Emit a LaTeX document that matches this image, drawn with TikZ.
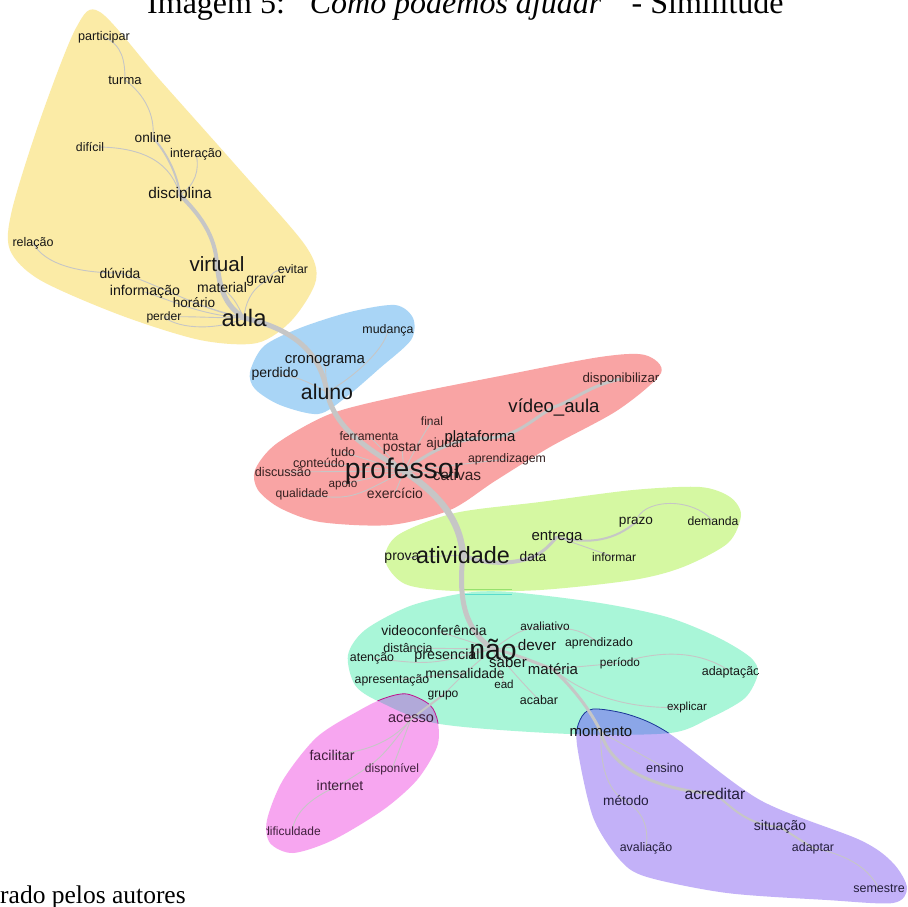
\documentclass[tikz,border=0pt]{standalone}
\usepackage{fontspec}
\setmainfont{Liberation Sans}
\newfontfamily\timesf{Liberation Serif}
\pgfdeclarelayer{blobs}
\pgfdeclarelayer{edges}
\pgfsetlayers{blobs,edges,main}
\newcommand\fsz[1]{\fontsize{#1}{#1}\selectfont}
\definecolor{cyel}{HTML}{FBEBA6}
\definecolor{cblue}{HTML}{A9D5F6}
\definecolor{cred}{HTML}{F9A4A4}
\definecolor{cgreen}{HTML}{D5F8A2}
\definecolor{cteal}{HTML}{A9F6D8}
\definecolor{cpink}{HTML}{F7A6F0}
\definecolor{cpurple}{HTML}{C3B1F8}
\definecolor{cpinkteal}{HTML}{B1A9D9}
\definecolor{cpurpteal}{HTML}{8BA6E8}
\definecolor{edgec}{HTML}{C6C6C6}
\definecolor{txt}{HTML}{161616}
\definecolor{txtred}{HTML}{352020}
\definecolor{txtpink}{HTML}{3F1E3B}
\definecolor{txtpurp}{HTML}{231E3B}
\def\yelpath{plot[smooth cycle] coordinates {(100,12) (160,80) (240,170) (305,245) (316,280) (292,320) (257,343) (200,340) (120,315) (40,280) (10,250) (12,210) (40,120) (76,28)}}
\def\bluepath{plot[smooth cycle] coordinates {(250,372) (264,346) (300,328) (350,312) (395,305) (413,318) (411,340) (380,368) (345,398) (318,414) (280,405) (255,389)}}
\def\redpath{plot[smooth cycle] coordinates {(255,470) (276,444) (330,414) (400,396) (500,376) (600,357) (645,355) (661,373) (618,410) (550,447) (495,481) (450,510) (390,525) (320,522) (280,508) (258,490)}}
\def\greenpath{plot[smooth cycle] coordinates {(385,560) (398,535) (455,513) (540,502) (633,490) (700,487) (730,497) (741,515) (728,543) (683,567) (633,580) (540,590) (455,591) (405,584)}}
\def\tealpath{plot[smooth cycle] coordinates {(348,655) (365,630) (410,606) (465,593) (510,592) (600,603) (667,617) (717,637) (750,657) (758,673) (745,698) (710,718) (670,733) (570,734) (440,724) (380,702) (355,685)}}
\def\pinkpath{plot[smooth cycle] coordinates {(407,694) (430,705) (438,723) (437,747) (417,780) (383,810) (333,840) (293,853) (270,843) (267,820) (283,780) (317,737) (360,710) (385,698)}}
\def\purppath{plot[smooth cycle] coordinates {(593,709) (630,715) (670,734) (760,800) (860,840) (893,863) (907,888) (893,903) (827,900) (727,893) (647,877) (620,860) (593,817) (577,745) (580,720)}}
\tikzset{
  w/.style={inner sep=0pt, text=txt},
  wr/.style={w, text=txtred},
  wp/.style={w, text=txtpink},
  wu/.style={w, text=txtpurp},
  e/.style={draw=edgec, line width=0.9pt, line cap=round},
  e2/.style={draw=edgec, line width=2pt, line cap=round},
  e3/.style={draw=edgec, line width=3pt, line cap=round},
  e4/.style={draw=edgec, line width=4pt, line cap=round},
  e5/.style={draw=edgec, line width=5pt, line cap=round},
  e6/.style={draw=edgec, line width=6.5pt, line cap=round},
}
\begin{document}
\begin{tikzpicture}[x=1pt,y=-1pt]
\useasboundingbox (0,0) rectangle (908,906);
\clip (0,0) rectangle (908,906);
% ---------- blobs ----------
\begin{pgfonlayer}{blobs}
\fill[white] (0,0) rectangle (908,906);
\fill[cyel] \yelpath;
\fill[cblue] \bluepath;
\fill[cred] \redpath;
\fill[cgreen] \greenpath;
\fill[cteal] \tealpath;
\fill[cpink] \pinkpath;
\fill[cpurple] \purppath;
\begin{scope}
\clip \tealpath;
\fill[cpinkteal] \pinkpath;
\draw[color={rgb,255:red,190;green,20;blue,140}, line width=0.8pt] \pinkpath;
\fill[cpurpteal] \purppath;
\draw[color={rgb,255:red,25;green,55;blue,150}, line width=0.8pt] \purppath;
\end{scope}
\draw[color={rgb,255:red,150;green,225;blue,110}, line width=0.8pt] (463,589) -- (512,589);
\draw[color={rgb,255:red,90;green,220;blue,205}, line width=0.8pt] (463,594) -- (512,594);
\end{pgfonlayer}
% ---------- title ----------
\node[inner sep=0pt, anchor=base west, text=black] (title) at (147,13)
  {\timesf\fsz{32}Imagem 5: “\textit{Como podemos ajudar}” \ - Similitude};
\node[inner sep=0pt, anchor=base west, text=black] (fonte) at (0,903)
  {\timesf\fsz{25.5}rado pelos autores};
% ---------- yellow ----------
\node[w,font=\fsz{12.6}] (participar) at (104,37) {participar};
\node[w,font=\fsz{13}] (turma) at (125,80) {turma};
\node[w,font=\fsz{13.7}] (online) at (153,138) {online};
\node[w,font=\fsz{12.3}] (dificil) at (90,147) {difícil};
\node[w,font=\fsz{12.6}] (interacao) at (196,154) {interação};
\node[w,font=\fsz{15.4}] (disciplina) at (180,195) {disciplina};
\node[w,font=\fsz{12.5}] (relacao) at (33,243) {relação};
\node[w,font=\fsz{20.6}] (virtual) at (217,264) {virtual};
\node[w,font=\fsz{13.9}] (duvida) at (120,273) {dúvida};
\node[w,font=\fsz{12.3}] (evitar) at (293,269) {evitar};
\node[w,font=\fsz{13.9}] (gravar) at (266,281) {gravar};
\node[w,font=\fsz{14}] (material) at (222,287) {material};
\node[w,font=\fsz{14.2}] (informacao) at (145,292) {informação};
\node[w,font=\fsz{13.6}] (horario) at (194,303) {horário};
\node[w,font=\fsz{12.1}] (perder) at (164,317) {perder};
\node[w,font=\fsz{23.8}] (aula) at (244,318) {aula};
% ---------- blue ----------
\begin{scope}
\clip \bluepath;
\node[w,font=\fsz{12.4}] (mudanca) at (388,330) {mudança};
\end{scope}
\node[w,font=\fsz{15}] (cronograma) at (325,361) {cronograma};
\node[w,font=\fsz{14}] (perdido) at (275,374) {perdido};
\node[w,font=\fsz{21.3}] (aluno) at (327,392) {aluno};
% ---------- red ----------
\begin{scope}
\clip \redpath;
\node[wr,font=\fsz{13.3}] (disponibilizar) at (621,379) {disponibilizar};
\end{scope}
\node[w,font=\fsz{18.6}] (videoaula) at (554,407) {vídeo\_aula};
\node[wr,font=\fsz{12}] (final) at (432,421) {final};
\node[wr,font=\fsz{12.2}] (ferramenta) at (369,436) {ferramenta};
\node[wr,font=\fsz{12.5}] (tudo) at (343,452) {tudo};
\node[wr,font=\fsz{13.8}] (postar) at (402,448) {postar};
\node[wr,font=\fsz{13.4}] (ajudar) at (445,444) {ajudar};
\node[w,font=\fsz{15}] (plataforma) at (480,438) {plataforma};
\node[wr,font=\fsz{12.6}] (conteudo) at (319,463) {conteúdo};
\node[wr,font=\fsz{12.3}] (aprendizagem) at (507,459) {aprendizagem};
\node[wr,font=\fsz{15.5}] (cativas) at (457,475) {cativas};
\node[w,font=\fsz{28.4}] (professor) at (404,471) {professor};
\node[wr,font=\fsz{12.6}] (discussao) at (283,472) {discussão};
\node[wr,font=\fsz{11.7}] (apoio) at (343,484) {apoio};
\node[wr,font=\fsz{12.2}] (qualidade) at (302,494) {qualidade};
\node[wr,font=\fsz{14}] (exercicio) at (395,493) {exercício};
% ---------- green ----------
\node[w,font=\fsz{13.6}] (prazo) at (636,522) {prazo};
\node[w,font=\fsz{12.2}] (demanda) at (713,521) {demanda};
\node[w,font=\fsz{15}] (entrega) at (557,537) {entrega};
\node[w,font=\fsz{14}] (prova) at (402,558) {prova};
\node[w,font=\fsz{23.4}] (atividade) at (463,555) {atividade};
\node[w,font=\fsz{13.7}] (data) at (533,557) {data};
\node[w,font=\fsz{12}] (informar) at (614,557) {informar};
% ---------- teal ----------
\node[w,font=\fsz{11.8}] (avaliativo) at (545,626) {avaliativo};
\node[w,font=\fsz{13.9}] (videoconf) at (434,630) {videoconferência};
\node[w,font=\fsz{15.3}] (dever) at (537,645) {dever};
\node[w,font=\fsz{12.3}] (aprendizado) at (599,643) {aprendizado};
\node[w,font=\fsz{12.5}] (distancia) at (408,648) {distância};
\node[w,font=\fsz{12.4}] (atencao) at (372,658) {atenção};
\node[w,font=\fsz{14.3}] (presencial) at (447,656) {presencial};
\node[w,font=\fsz{28.4}] (nao) at (493,649) {não};
\node[w,font=\fsz{15}] (saber) at (508,662) {saber};
\node[w,font=\fsz{15}] (materia) at (553,669) {matéria};
\node[w,font=\fsz{11.8}] (periodo) at (620,663) {período};
\begin{scope}
\clip \tealpath;
\node[w,font=\fsz{12.5}] (adaptacao) at (731,672) {adaptação};
\node[w,font=\fsz{12.3}] (apresentacao) at (392,680) {apresentação};
\end{scope}
\node[w,font=\fsz{14}] (mensalidade) at (465,673) {mensalidade};
\node[w,font=\fsz{11.6}] (ead) at (504,684) {ead};
\node[w,font=\fsz{12.1}] (grupo) at (443,695) {grupo};
\node[w,font=\fsz{12.5}] (acabar) at (539,700) {acabar};
\node[w,font=\fsz{11.6}] (explicar) at (687,707) {explicar};
% ---------- pink ----------
\node[wp,font=\fsz{14.5}] (acesso) at (411,719) {acesso};
\node[wp,font=\fsz{14.2}] (facilitar) at (332,755) {facilitar};
\node[wp,font=\fsz{12}] (disponivel) at (392,769) {disponível};
\node[wp,font=\fsz{14}] (internet) at (340,785) {internet};
\begin{scope}
\clip \pinkpath;
\node[wp,font=\fsz{12}] (dificuldade) at (292,831) {dificuldade};
\end{scope}
% ---------- purple ----------
\node[w,font=\fsz{15}] (momento) at (601,732) {momento};
\node[wu,font=\fsz{12.8}] (ensino) at (665,768) {ensino};
\node[wu,font=\fsz{15.6}] (acreditar) at (715,794) {acreditar};
\node[wu,font=\fsz{13.7}] (metodo) at (626,801) {método};
\node[wu,font=\fsz{14}] (situacao) at (780,827) {situação};
\node[wu,font=\fsz{12.4}] (avaliacao) at (646,848) {avaliação};
\node[wu,font=\fsz{12.4}] (adaptar) at (813,848) {adaptar};
\node[wu,font=\fsz{12.5}] (semestre) at (879,889) {semestre};
% ---------- edges ----------
\begin{pgfonlayer}{edges}
% yellow
\draw[e] (participar.center) .. controls (122,45) and (125,60) .. (turma.center);
\draw[e] (turma.center) .. controls (145,95) and (155,115) .. (online.center);
\draw[e2] (online.center) .. controls (165,150) and (178,175) .. (disciplina.center);
\draw[e] (dificil.center) .. controls (140,146) and (170,160) .. (disciplina.center);
\draw[e] (interacao.center) .. controls (200,170) and (195,185) .. (disciplina.center);
\draw[e4] (disciplina.center) .. controls (200,215) and (215,235) .. (virtual.center);
\draw[e5] (virtual.center) .. controls (220,290) and (225,305) .. (aula.center);
\draw[e] (relacao.center) .. controls (45,265) and (80,273) .. (duvida.center);
\draw[e] (duvida.center) .. controls (150,280) and (200,310) .. (aula.center);
\draw[e] (informacao.center) .. controls (170,300) and (200,315) .. (aula.center);
\draw[e] (horario.center) .. controls (215,310) .. (aula.center);
\draw[e] (perder.center) .. controls (190,316) and (215,318) .. (aula.center);
\draw[e] (perder.center) .. controls (180,330) and (220,330) .. (aula.center);
\draw[e] (material.center) .. controls (235,300) .. (aula.center);
\draw[e] (gravar.center) .. controls (250,290) and (245,305) .. (aula.center);
\draw[e] (evitar.center) .. controls (275,270) .. (gravar.center);
% blue
\draw[e5] (aula.center) .. controls (290,328) and (320,350) .. (aluno.center);
\draw[e] (cronograma.center) -- (aluno.center);
\draw[e] (perdido.center) .. controls (300,378) .. (aluno.center);
\draw[e] (mudanca.center) .. controls (385,350) and (350,380) .. (aluno.center);
\draw[e5] (aluno.center) .. controls (335,430) and (370,450) .. (professor.center);
% red
\draw[e3] (professor.center) .. controls (425,455) and (450,440) .. (plataforma.center);
\draw[e3] (plataforma.center) .. controls (515,440) and (530,420) .. (videoaula.center);
\draw[e3] (videoaula.center) .. controls (575,400) and (590,385) .. (disponibilizar.center);
\draw[e] (professor.center) .. controls (420,440) .. (final.center);
\draw[e] (professor.center) -- (ajudar.center);
\draw[e] (professor.center) -- (postar.center);
\draw[e] (professor.center) -- (ferramenta.center);
\draw[e] (professor.center) -- (tudo.center);
\draw[e] (professor.center) -- (conteudo.center);
\draw[e] (professor.center) -- (discussao.center);
\draw[e] (professor.center) -- (apoio.center);
\draw[e] (professor.center) .. controls (350,500) .. (qualidade.center);
\draw[e] (professor.center) -- (exercicio.center);
\draw[e] (professor.center) -- (aprendizagem.center);
\draw[e] (professor.center) -- (cativas.center);
\draw[e6] (professor.center) .. controls (440,495) and (460,520) .. (atividade.center);
% green
\draw[e4] (atividade.center) .. controls (485,565) and (510,565) .. (data.center);
\draw[e3] (data.center) .. controls (545,550) .. (entrega.center);
\draw[e2] (entrega.center) .. controls (590,545) and (615,540) .. (prazo.center);
\draw[e] (prazo.center) .. controls (640,500) and (690,495) .. (demanda.center);
\draw[e] (entrega.center) -- (informar.center);
\draw[e] (atividade.center) -- (prova.center);
% teal
\draw[e5] (atividade.center) .. controls (458,600) and (465,630) .. (nao.center);
\draw[e3] (nao.center) .. controls (520,655) and (540,665) .. (materia.center);
\draw[e3] (materia.center) .. controls (575,690) and (590,710) .. (momento.center);
\draw[e] (nao.center) -- (dever.center);
\draw[e] (nao.center) .. controls (520,630) .. (avaliativo.center);
\draw[e] (avaliativo.center) .. controls (580,630) .. (aprendizado.center);
\draw[e] (nao.center) -- (videoconf.center);
\draw[e] (nao.center) -- (distancia.center);
\draw[e] (nao.center) .. controls (430,665) .. (atencao.center);
\draw[e] (nao.center) -- (presencial.center);
\draw[e] (nao.center) -- (saber.center);
\draw[e] (nao.center) -- (mensalidade.center);
\draw[e] (mensalidade.center) -- (apresentacao.center);
\draw[e] (nao.center) -- (ead.center);
\draw[e] (nao.center) .. controls (520,680) .. (acabar.center);
\draw[e] (materia.center) -- (periodo.center);
\draw[e] (periodo.center) .. controls (660,650) and (700,650) .. (adaptacao.center);
\draw[e] (materia.center) .. controls (590,700) and (640,710) .. (explicar.center);
% pink
\draw[e] (mensalidade.center) -- (grupo.center);
\draw[e2] (grupo.center) -- (acesso.center);
\draw[e] (acesso.center) .. controls (390,745) and (360,752) .. (facilitar.center);
\draw[e] (acesso.center) -- (disponivel.center);
\draw[e] (acesso.center) .. controls (380,760) .. (internet.center);
\draw[e] (internet.center) .. controls (305,800) and (295,815) .. (dificuldade.center);
% purple
\draw[e3] (momento.center) .. controls (610,770) and (660,790) .. (acreditar.center);
\draw[e] (momento.center) -- (ensino.center);
\draw[e2] (acreditar.center) .. controls (730,805) and (745,825) .. (situacao.center);
\draw[e2] (situacao.center) -- (adaptar.center);
\draw[e] (adaptar.center) .. controls (850,855) and (870,870) .. (semestre.center);
\draw[e] (momento.center) .. controls (600,760) and (605,790) .. (metodo.center);
\draw[e] (metodo.center) .. controls (648,815) and (648,835) .. (avaliacao.center);
\end{pgfonlayer}
\end{tikzpicture}
\end{document}
